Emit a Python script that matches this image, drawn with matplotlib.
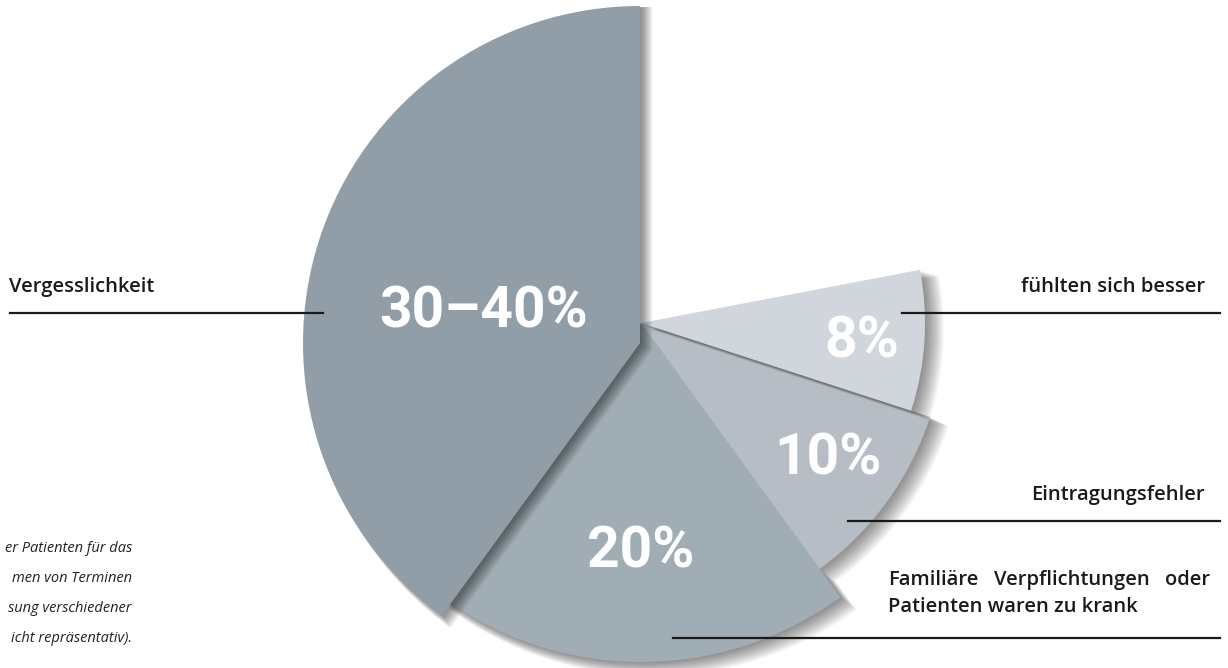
import numpy as np
import matplotlib
matplotlib.use("Agg")
import matplotlib.pyplot as plt
from matplotlib.patches import Wedge
from matplotlib import font_manager

# data
categories = ["Vergesslichkeit", "Familiäre Verpflichtungen oder", "Eintragungsfehler", "fühlten sich besser"]
shares = [40, 20, 10, 8]              # percent, sets the wedge angle
value_labels = ["30–40%", "20%", "10%", "8%"]
note_lines = ["er Patienten für das", "men von Terminen", "sung verschiedener", "icht repräsentativ)."]

# style
W, H = 1228, 668
colors = ["#919ea8", "#a1adb5", "#b6bdc5", "#d0d6db"]
radii = [337, 339, 304, 284]
centers = [(640, 343), (641, 323), (641, 323), (641, 323)]   # image px, y down
draw_order = [1, 2, 3, 0]
label_ang = [176, 270, 324, 355]
label_r = [158, 229, 231, 222]

avail = {f.name for f in font_manager.fontManager.ttflist}
big_font = [f for f in ["Liberation Sans Narrow", "Roboto", "DejaVu Sans"] if f in avail]
txt_font = [f for f in ["Open Sans", "Noto Sans", "DejaVu Sans"] if f in avail]


def Y(y):
    return H - y


fig = plt.figure(figsize=(W / 100, H / 100), dpi=100)
ax = fig.add_axes([0, 0, 1, 1])
ax.set_xlim(0, W)
ax.set_ylim(0, H)
ax.set_aspect("equal")
ax.axis("off")

# wedge angles, counterclockwise from 12 o'clock
starts = 90 + np.concatenate([[0], np.cumsum(shares)[:-1]]) * 3.6
ends = starts + np.array(shares) * 3.6

for i in draw_order:
    cx, cy = centers[i]
    # soft drop shadow
    for k in range(14):
        off = 2 + k * 0.8
        ax.add_patch(Wedge((cx + off, Y(cy) - off * 0.6), radii[i] + k * 0.5,
                           starts[i], ends[i], facecolor="black", alpha=0.035,
                           linewidth=0))
    ax.add_patch(Wedge((cx, Y(cy)), radii[i], starts[i], ends[i],
                       facecolor=colors[i], linewidth=0))

for i in range(4):
    cx, cy = centers[1]
    a = np.deg2rad(label_ang[i])
    ax.text(cx + label_r[i] * np.cos(a), Y(cy) + label_r[i] * np.sin(a), value_labels[i],
            color="white", fontsize=41, fontweight="bold", family=big_font,
            ha="center", va="center")

# callout labels and rules
lab = dict(fontsize=14.5, fontweight="semibold", family=txt_font, color="#1a1a1a")
ax.text(9, Y(292), categories[0], ha="left", va="baseline", **lab)
ax.plot([10, 323], [Y(313), Y(313)], color="#1a1a1a", lw=1.6)

ax.text(1205, Y(292), categories[3], ha="right", va="baseline", **lab)
ax.plot([902, 1220], [Y(313), Y(313)], color="#1a1a1a", lw=1.6)

ax.text(1205, Y(500), categories[2], ha="right", va="baseline", **lab)
ax.plot([848, 1220], [Y(521), Y(521)], color="#1a1a1a", lw=1.6)

# justified first line between x=888 and x=1210
x0, x1 = 888, 1210
words = categories[1].split()
wtexts = [ax.text(x0, Y(585), w, ha="left", va="baseline", **lab) for w in words]
fig.canvas.draw()
rend = fig.canvas.get_renderer()
widths = [t.get_window_extent(rend).width for t in wtexts]
gap = (x1 - x0 - sum(widths)) / (len(words) - 1)
xpos = x0
for t, wd in zip(wtexts, widths):
    t.set_x(xpos)
    xpos += wd + gap
ax.text(x0, Y(612), "Patienten waren zu krank", ha="left", va="baseline", **lab)
ax.plot([673, 1220], [Y(638), Y(638)], color="#1a1a1a", lw=1.6)

# cut-off source note
for j, line in enumerate(note_lines):
    ax.text(132, Y(552 + j * 30), line, ha="right", va="baseline", fontsize=10.5,
            style="italic", family=txt_font, color="#222222")

fig.savefig("out.png", dpi=100)
